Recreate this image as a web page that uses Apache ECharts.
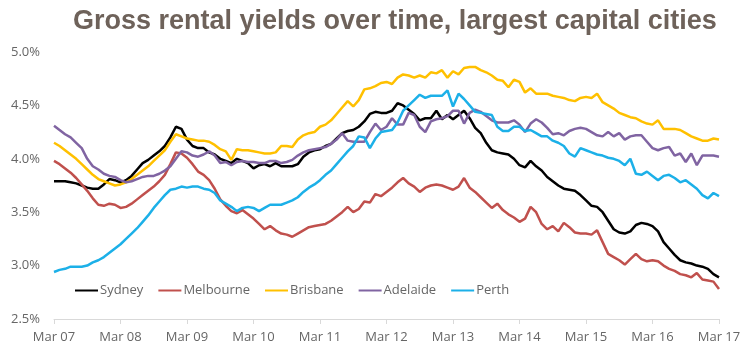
<!DOCTYPE html>
<html>
<head>
<meta charset="utf-8">
<script src="https://cdn.jsdelivr.net/npm/echarts@6/dist/echarts.min.js"></script>
<style>
html,body{margin:0;padding:0;background:#fff;}
#chart{width:754px;height:354px;}
</style>
</head>
<body>
<div id="chart"></div>
<script>
// Category labels: monthly, Mar 2007 .. Mar 2017
const monthNames = ['Jan','Feb','Mar','Apr','May','Jun','Jul','Aug','Sep','Oct','Nov','Dec'];
const categories = [];
for (let k = 0; k <= 120; k++) {
  const m = (2 + k) % 12;
  const yr = 7 + Math.floor((2 + k) / 12);
  categories.push(monthNames[m] + ' ' + String(yr).padStart(2, '0'));
}

const seriesNames = ['Sydney', 'Melbourne', 'Brisbane', 'Adelaide', 'Perth'];

const sydney = [
  3.79,3.79,3.79,3.78,3.77,3.75,3.73,3.72,3.72,3.76,3.81,3.80,3.78,
  3.80,3.84,3.90,3.96,3.99,4.03,4.07,4.12,4.20,4.30,4.28,4.18,
  4.12,4.10,4.10,4.06,4.04,4.00,3.98,3.96,4.00,3.98,3.96,3.91,
  3.94,3.95,3.93,3.96,3.93,3.93,3.93,3.95,4.02,4.06,4.08,4.09,
  4.12,4.14,4.19,4.24,4.26,4.27,4.30,4.35,4.42,4.44,4.43,4.43,
  4.45,4.52,4.50,4.46,4.42,4.36,4.38,4.38,4.45,4.37,4.41,4.37,
  4.41,4.45,4.38,4.29,4.24,4.15,4.08,4.06,4.05,4.04,4.00,3.94,
  3.92,3.98,3.93,3.89,3.83,3.79,3.75,3.72,3.71,3.70,3.66,3.61,
  3.56,3.55,3.50,3.42,3.34,3.31,3.30,3.32,3.38,3.40,3.39,3.37,
  3.32,3.22,3.16,3.10,3.05,3.03,3.02,3.00,2.99,2.97,2.92,2.89
];
const melbourne = [
  3.98,3.95,3.91,3.87,3.82,3.76,3.70,3.63,3.57,3.56,3.58,3.57,3.54,
  3.55,3.58,3.62,3.66,3.70,3.74,3.79,3.85,3.95,4.06,4.05,4.01,
  3.95,3.88,3.85,3.80,3.72,3.62,3.56,3.51,3.49,3.52,3.48,3.44,
  3.39,3.34,3.37,3.33,3.30,3.29,3.27,3.30,3.33,3.36,3.37,3.38,
  3.39,3.42,3.46,3.50,3.55,3.50,3.53,3.60,3.59,3.67,3.65,3.69,
  3.73,3.78,3.82,3.77,3.74,3.69,3.73,3.75,3.76,3.75,3.73,3.71,
  3.74,3.82,3.73,3.69,3.64,3.59,3.54,3.58,3.52,3.48,3.45,3.41,
  3.44,3.55,3.50,3.39,3.34,3.37,3.32,3.40,3.36,3.31,3.30,3.30,
  3.29,3.33,3.22,3.11,3.08,3.05,3.01,3.06,3.11,3.06,3.04,3.05,
  3.04,3.00,2.97,2.95,2.92,2.91,2.89,2.93,2.87,2.86,2.85,2.78
];
const brisbane = [
  4.15,4.12,4.08,4.04,4.00,3.95,3.90,3.85,3.81,3.79,3.77,3.75,3.76,
  3.78,3.81,3.85,3.89,3.93,3.98,4.03,4.08,4.16,4.23,4.21,4.19,
  4.18,4.17,4.17,4.16,4.13,4.09,4.07,3.99,4.09,4.08,4.08,4.07,
  4.06,4.05,4.05,4.06,4.12,4.12,4.11,4.18,4.22,4.24,4.25,4.30,
  4.32,4.36,4.42,4.48,4.54,4.49,4.55,4.65,4.66,4.68,4.71,4.72,
  4.70,4.76,4.79,4.78,4.76,4.78,4.76,4.81,4.80,4.83,4.76,4.82,
  4.79,4.85,4.86,4.86,4.83,4.81,4.78,4.74,4.73,4.67,4.74,4.72,
  4.62,4.66,4.61,4.61,4.61,4.59,4.58,4.57,4.55,4.54,4.57,4.58,
  4.57,4.61,4.53,4.50,4.47,4.43,4.41,4.39,4.38,4.35,4.33,4.32,
  4.36,4.28,4.28,4.28,4.27,4.24,4.21,4.19,4.17,4.17,4.19,4.18
];
const adelaide = [
  4.31,4.27,4.23,4.20,4.15,4.10,4.00,3.93,3.90,3.86,3.84,3.83,3.80,
  3.78,3.79,3.81,3.83,3.84,3.84,3.86,3.89,3.93,4.00,4.07,4.06,
  4.03,4.02,4.04,4.07,4.03,3.96,3.97,3.94,3.97,3.98,3.97,3.97,
  3.96,3.96,3.98,3.98,3.96,3.97,3.99,4.03,4.06,4.08,4.09,4.10,
  4.11,4.14,4.18,4.24,4.17,4.16,4.16,4.16,4.25,4.33,4.27,4.30,
  4.38,4.32,4.32,4.43,4.41,4.30,4.25,4.35,4.37,4.38,4.40,4.45,
  4.45,4.33,4.43,4.46,4.44,4.40,4.36,4.34,4.34,4.34,4.36,4.32,
  4.25,4.33,4.37,4.34,4.29,4.23,4.24,4.22,4.26,4.28,4.29,4.28,
  4.25,4.22,4.21,4.25,4.21,4.24,4.18,4.21,4.22,4.22,4.16,4.10,
  4.08,4.10,4.11,4.03,4.05,3.97,4.05,3.94,4.03,4.03,4.03,4.02
];
const perth = [
  2.94,2.96,2.97,2.99,2.99,2.99,3.00,3.03,3.05,3.08,3.12,3.16,3.20,
  3.25,3.30,3.35,3.41,3.47,3.54,3.60,3.66,3.71,3.72,3.74,3.73,
  3.74,3.74,3.72,3.71,3.68,3.61,3.58,3.55,3.51,3.54,3.55,3.54,
  3.51,3.54,3.57,3.57,3.57,3.59,3.61,3.64,3.69,3.73,3.76,3.80,
  3.85,3.89,3.95,4.01,4.07,4.12,4.21,4.20,4.10,4.19,4.25,4.26,
  4.27,4.34,4.45,4.50,4.55,4.60,4.57,4.59,4.59,4.59,4.64,4.49,
  4.61,4.56,4.50,4.44,4.43,4.42,4.41,4.30,4.26,4.26,4.30,4.30,
  4.26,4.27,4.24,4.21,4.21,4.17,4.15,4.12,4.05,4.02,4.10,4.08,
  4.06,4.04,4.03,4.01,4.00,3.98,3.94,4.00,3.86,3.85,3.88,3.84,
  3.80,3.84,3.85,3.82,3.78,3.80,3.76,3.72,3.66,3.63,3.68,3.65
];
const seriesData = [sydney, melbourne, brisbane, adelaide, perth];
const seriesColors = ['#000000', '#c0504d', '#ffc000', '#8064a2', '#1cb0e8'];

const yMin = 2.5, yMax = 5.0, yStep = 0.5;

const chart = echarts.init(document.getElementById('chart'), null, {renderer: 'canvas'});
chart.setOption({
  animation: false,
  backgroundColor: '#ffffff',
  title: {
    text: 'Gross rental yields over time, largest capital cities',
    left: 68,
    top: 3,
    textStyle: {
      fontFamily: 'Liberation Sans, Arial, sans-serif',
      fontWeight: 'bold',
      fontSize: 27,
      color: '#6e625a'
    }
  },
  legend: {
    data: seriesNames,
    left: 70,
    top: 279,
    itemWidth: 23,
    itemHeight: 10,
    itemGap: 15,
    icon: 'path://M0,4 L23,4 L23,6 L0,6 Z',
    textStyle: {fontFamily: 'Open Sans', fontSize: 13, color: '#666666', padding: [0,0,0,-3]}
  },
  grid: {left: 54, right: 35, top: 52, bottom: 35, containLabel: false},
  xAxis: {
    type: 'category',
    data: categories,
    boundaryGap: false,
    axisLine: {lineStyle: {color: '#d9d9d9', width: 1}},
    axisTick: {show: true, interval: 11, length: 5, lineStyle: {color: '#d9d9d9'}},
    axisLabel: {interval: 11, margin: 12, fontFamily: 'Open Sans', fontSize: 13, color: '#666666'},
    splitLine: {show: false}
  },
  yAxis: {
    type: 'value',
    min: yMin, max: yMax, interval: yStep,
    axisLine: {show: false},
    axisTick: {show: false},
    splitLine: {show: false},
    axisLabel: {margin: 14, fontFamily: 'Open Sans', fontSize: 13, color: '#666666',
      formatter: v => v.toFixed(1) + '%'}
  },
  series: seriesNames.map((n, k) => ({
    name: n,
    type: 'line',
    data: seriesData[k],
    symbol: 'none',
    smooth: false,
    lineStyle: {color: seriesColors[k], width: 2.5},
    itemStyle: {color: seriesColors[k]}
  }))
});
</script>
</body>
</html>
